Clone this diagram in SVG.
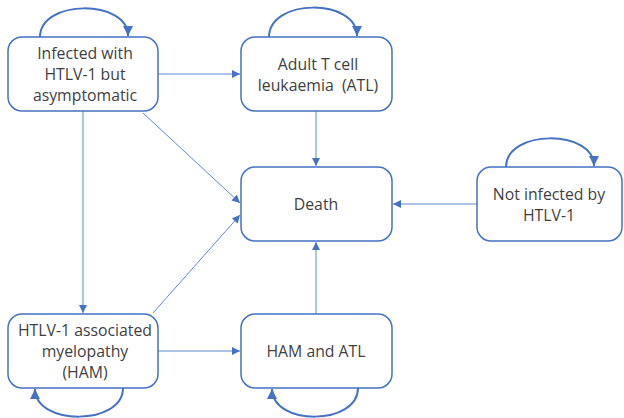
<svg xmlns="http://www.w3.org/2000/svg" width="624" height="418" viewBox="0 0 624 418">
<style>
.box{fill:#fff;stroke:#4472C4;stroke-width:1.5}
.lbl{font-family:"Open Sans","Noto Sans",sans-serif;font-size:15.8px;fill:#3f3f3f;text-anchor:middle}
.c{fill:none;stroke:#5B8BD0;stroke-width:1}
.loop{fill:none;stroke:#4472C4;stroke-width:2}
</style>
<defs>
<marker id="a" viewBox="0 0 10 10" refX="10" refY="5" markerWidth="8" markerHeight="8" markerUnits="userSpaceOnUse" orient="auto"><path d="M0,0 L10,5 L0,10 z" fill="#4472C4"/></marker>
<marker id="b" viewBox="0 0 10 10" refX="10" refY="5" markerWidth="10" markerHeight="10" markerUnits="userSpaceOnUse" orient="auto"><path d="M0,0 L10,5 L0,10 z" fill="#4472C4"/></marker>
</defs>
<g id="connectors">
<line class="c" x1="158" y1="74" x2="240" y2="74" marker-end="url(#a)"/>
<line class="c" x1="143" y1="113" x2="240" y2="203" marker-end="url(#a)"/>
<line class="c" x1="83" y1="111" x2="83" y2="313" marker-end="url(#a)"/>
<line class="c" x1="153" y1="313" x2="240" y2="215" marker-end="url(#a)"/>
<line class="c" x1="316" y1="111" x2="316" y2="166" marker-end="url(#a)"/>
<line class="c" x1="477" y1="204" x2="393" y2="204" marker-end="url(#a)"/>
<line class="c" x1="158" y1="351" x2="240" y2="351" marker-end="url(#a)"/>
<line class="c" x1="316" y1="314" x2="316" y2="242" marker-end="url(#a)"/>
<path class="loop" d="M40,37 C40,-1 128,-1 128,36" marker-end="url(#b)"/>
<path class="loop" d="M269,37 C269,-2 357,-2 357,36" marker-end="url(#b)"/>
<path class="loop" d="M506,167 C506,129 594,129 594,166" marker-end="url(#b)"/>
<path class="loop" d="M123,388 C123,426 35,426 35,389" marker-end="url(#b)"/>
<path class="loop" d="M358,388 C358,426 272,426 272,389" marker-end="url(#b)"/>
</g>
<g id="n1"><rect class="box" x="8" y="37" width="150" height="74" rx="14"/>
<text class="lbl" x="85" y="59">Infected with</text><text class="lbl" x="85" y="80">HTLV-1 but</text><text class="lbl" x="85" y="101">asymptomatic</text></g>
<g id="n2"><rect class="box" x="241" y="37" width="151" height="74" rx="14"/>
<text class="lbl" x="318" y="70">Adult T cell</text><text class="lbl" x="318" y="91" xml:space="preserve">leukaemia  (ATL)</text></g>
<g id="n3"><rect class="box" x="241" y="167" width="151" height="74" rx="14"/>
<text class="lbl" x="316" y="210">Death</text></g>
<g id="n4"><rect class="box" x="477" y="167" width="145" height="74" rx="14"/>
<text class="lbl" x="549" y="200">Not infected by</text><text class="lbl" x="549" y="221">HTLV-1</text></g>
<g id="n5"><rect class="box" x="8" y="314" width="150" height="74" rx="14"/>
<text class="lbl" x="85" y="336">HTLV-1 associated</text><text class="lbl" x="85" y="357">myelopathy</text><text class="lbl" x="85" y="378">(HAM)</text></g>
<g id="n6"><rect class="box" x="241" y="314" width="151" height="74" rx="14"/>
<text class="lbl" x="316" y="357">HAM and ATL</text></g>
</svg>
